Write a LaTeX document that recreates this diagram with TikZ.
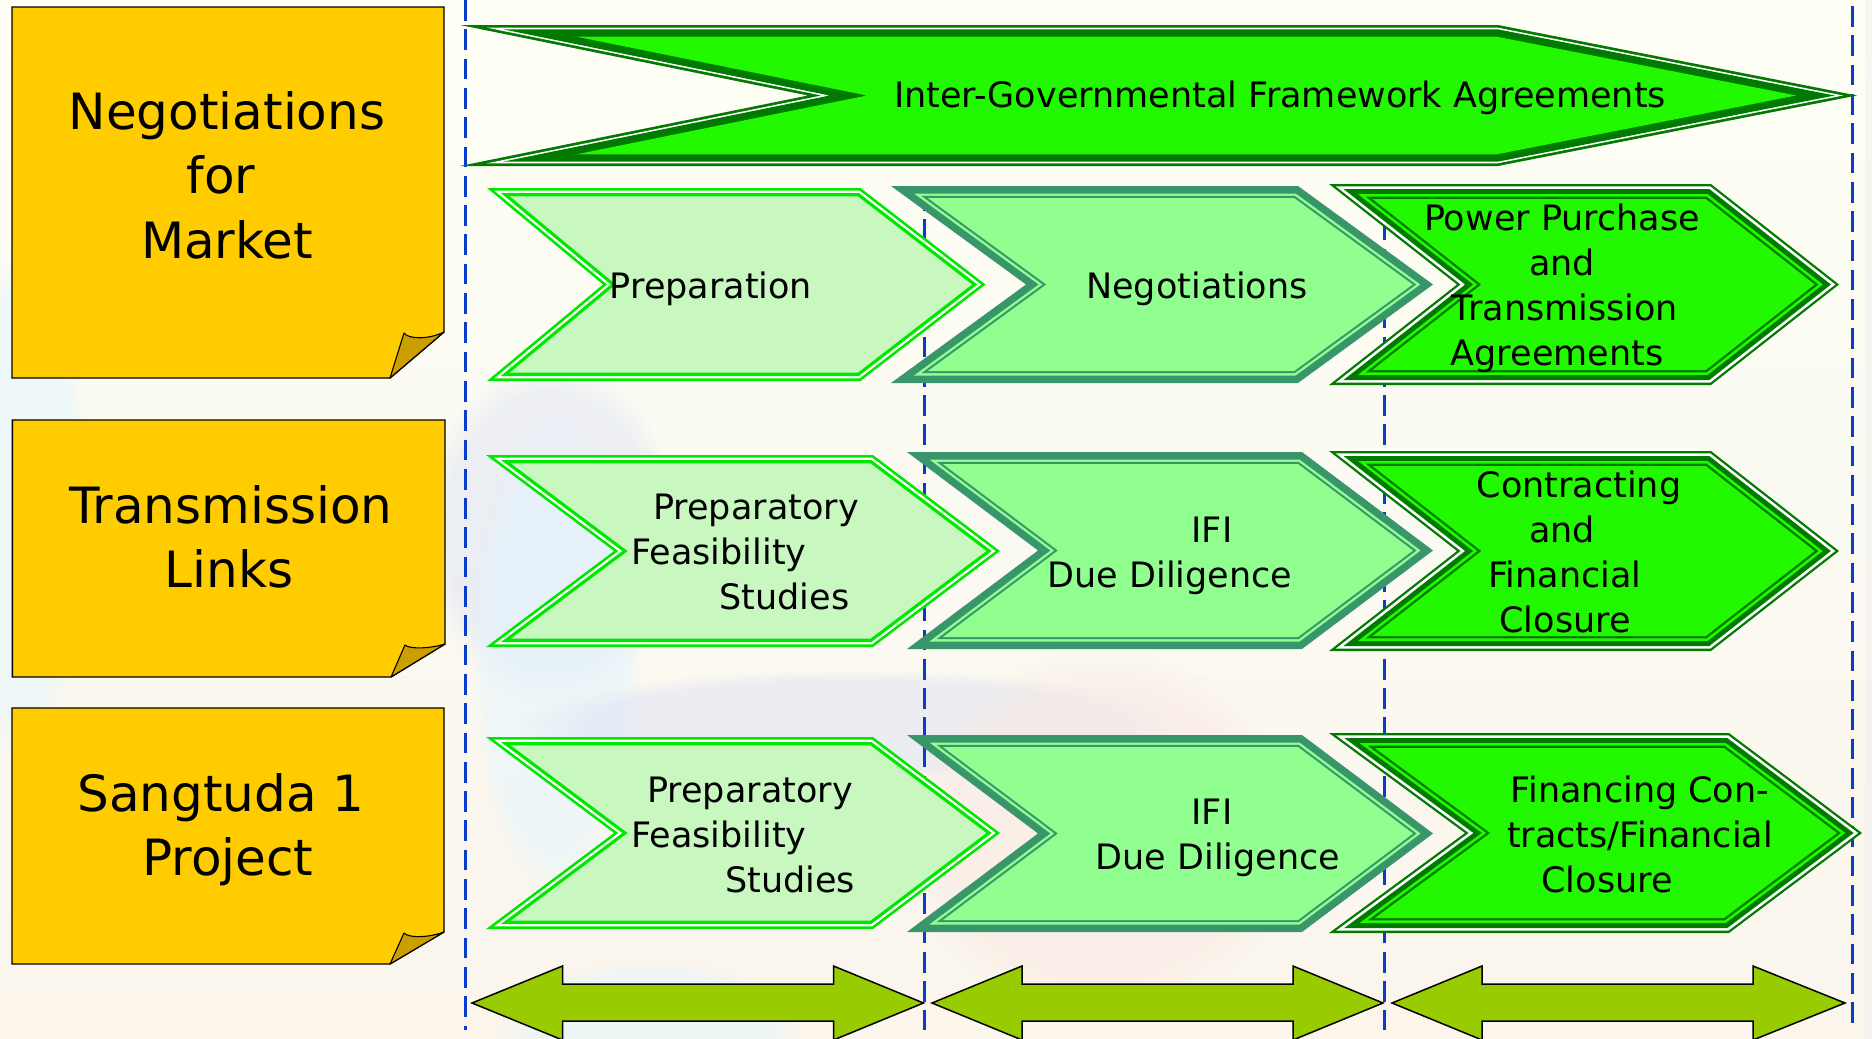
\documentclass[tikz,border=0pt]{standalone}
\usepackage{fontspec}
\setmainfont{DejaVu Sans}
\usetikzlibrary{fadings}
\definecolor{bgtop}{HTML}{FFFFF5}
\definecolor{bgmid}{HTML}{FBFAF2}
\definecolor{bgbot}{HTML}{FBF5EC}
\definecolor{patchblue}{HTML}{DDE3F5}
\definecolor{patchsky}{HTML}{E2F5FF}
\definecolor{patchpink}{HTML}{F8E8E2}
\definecolor{dashblue}{HTML}{0A3CCC}
\definecolor{notefill}{HTML}{FFCC00}
\definecolor{foldfill}{HTML}{CC9F00}
\definecolor{arrowfill}{HTML}{99CC00}
\definecolor{dkgreen}{HTML}{007A00}
\definecolor{brightfill}{HTML}{22F800}
\definecolor{neon}{HTML}{00E800}
\definecolor{palefill}{HTML}{C8F7C0}
\definecolor{seagreen}{HTML}{38966A}
\definecolor{midfill}{HTML}{90FF90}
\tikzset{
  x=1pt,y=-1pt,
  guide/.style={draw=dashblue,line width=3pt,dash pattern=on 20.7pt off 8.6pt},
  note/.style={draw=black,line width=1.4pt,fill=notefill,line join=miter},
  fold/.style={draw=black,line width=1.1pt,fill=foldfill,line join=round},
  span/.style={draw=black,line width=1.5pt,fill=arrowfill,line join=miter},
  bigtext/.style={inner sep=0pt,align=center,anchor=north,font=\fontsize{50}{64.5}\selectfont},
  smalltext/.style={inner sep=0pt,align=center,anchor=north,font=\fontsize{35}{45}\selectfont},
  patch/.style={path fading=circle with fuzzy edge 20 percent,draw=none,opacity=.5}
}
% strut: height 34 / depth 11 for the small lines, 48 / 16.5 for the big ones
\newcommand{\sst}{\rule[-11pt]{0pt}{45pt}}
\newcommand{\bst}{\rule[-16.5pt]{0pt}{64.5pt}}
% space at the end of a line that survives the line break
\newcommand{\rsp}[1]{\hspace*{#1}\mbox{}}
% left, shoulder, tip, notch, top, bottom, layers (inset/colour)
\newcommand{\chevronbox}[7]{%
  \pgfmathsetmacro{\hh}{(#6-#5)/2}
  \pgfmathsetmacro{\midy}{(#6+#5)/2}
  \pgfmathsetmacro{\slopel}{(#4-#1)/\hh}
  \pgfmathsetmacro{\sloper}{(#3-#2)/\hh}
  \foreach \ins/\col in #7{
    \pgfmathsetmacro{\dl}{\ins*sqrt(1+\slopel*\slopel)}
    \pgfmathsetmacro{\dr}{\ins*sqrt(1+\sloper*\sloper)}
    \pgfmathsetmacro{\xl}{#1+\dl+\slopel*\ins}
    \pgfmathsetmacro{\xr}{#2+\sloper*\ins-\dr}
    \pgfmathsetmacro{\xt}{#3-\dr}
    \pgfmathsetmacro{\xn}{#4+\dl}
    \pgfmathsetmacro{\yt}{#5+\ins}
    \pgfmathsetmacro{\yb}{#6-\ins}
    \fill[\col] (\xl,\yt) -- (\xr,\yt) -- (\xt,\midy) -- (\xr,\yb) -- (\xl,\yb) -- (\xn,\midy) -- cycle;
  }
}
\newcommand{\banlayers}{0/dkgreen,2.7/white,4.3/dkgreen,11.7/brightfill}
\newcommand{\palelayers}{0/neon,2.7/white,5/neon,8.3/palefill}
\newcommand{\midlayers}{0/seagreen,7.5/midfill,9.9/seagreen,12/midfill}
\newcommand{\darklayers}{0/dkgreen,2.3/white,5/dkgreen,10/brightfill,12.7/dkgreen,15/brightfill}
\newcommand{\doublearrow}[4]{% tip, base, base, tip
  \draw[span] (#1,1003) -- (#2,966) -- (#2,984) -- (#3,984) -- (#3,966) -- (#4,1003)
     -- (#3,1040) -- (#3,1021) -- (#2,1021) -- (#2,1040) -- cycle;
}
\begin{document}
\begin{tikzpicture}
\useasboundingbox (0,0) rectangle (1872,1039);
\begin{scope}
\clip (0,0) rectangle (1872,1039);
% background
\shade[top color=bgtop,bottom color=bgbot,middle color=bgmid] (0,0) rectangle (1872,1039);
\fill[patchsky,patch] (-60,250) rectangle (90,760);
\fill[patchblue,patch] (420,360) rectangle (680,700);
\fill[patchsky,patch] (470,420) rectangle (640,900);
\fill[patchblue,patch] (520,670) rectangle (1180,780);
\fill[patchpink,patch] (900,650) rectangle (1300,1010);
\fill[patchsky,patch] (500,960) rectangle (800,1100);
\fill[black!6,opacity=.5] (1865,0) rectangle (1872,1039);
% dashed guides
\draw[guide] (465,0) -- (465,1030);
\draw[guide] (924,190) -- (924,1030);
\draw[guide] (1384,190) -- (1384,1030);
\draw[guide] (1852,6) -- (1852,1030);
% double arrows
\doublearrow{472}{562.5}{833.5}{923.5}
\doublearrow{932}{1022}{1293}{1383}
\doublearrow{1392}{1482}{1753}{1845}
\end{scope}
% notes
\draw[note] (12,7) -- (444,7) -- (444,332) -- (390,378) -- (12,378) -- cycle;
\draw[fold] (390,378) -- (404,333) .. controls (408,339) and (428,340) .. (444,332) -- cycle;
\draw[note] (12.3,420) -- (445,420) -- (445,644) -- (391,677) -- (12.3,677) -- cycle;
\draw[fold] (391,677) -- (405,645) .. controls (409,649) and (429,649) .. (445,644) -- cycle;
\draw[note] (12,708) -- (444,708) -- (444,932) -- (390,964) -- (12,964) -- cycle;
\draw[fold] (390,964) -- (404,933) .. controls (408,938) and (428,938) .. (444,932) -- cycle;
% banner
\chevronbox{460}{1498}{1857}{808}{25}{166}{\banlayers}
% row 1
\chevronbox{487}{860.5}{985.5}{603}{188}{381}{\palelayers}
\chevronbox{891}{1298}{1433}{1026}{186}{383}{\midlayers}
\chevronbox{1329}{1711}{1839}{1457}{184}{385}{\darklayers}
% row 2
\chevronbox{486}{873}{1000}{614}{455}{647}{\palelayers}
\chevronbox{907}{1302}{1433}{1038}{452}{649}{\midlayers}
\chevronbox{1329}{1711}{1839}{1457}{451}{651}{\darklayers}
% row 3
\chevronbox{486}{873}{1000}{614}{737}{929}{\palelayers}
\chevronbox{907}{1302}{1433}{1038}{735}{932}{\midlayers}
\chevronbox{1329}{1729}{1862}{1465}{733}{933}{\darklayers}
% note labels
\node[bigtext] (noteA) at (227,81) {\bst Negotiations\\\bst for\rsp{12pt}\\\bst Market};
\node[bigtext] (noteB) at (229,475) {\bst\hspace*{4pt}Transmission\\\bst Links};
\node[bigtext] (noteC) at (224,763) {\bst Sangtuda 1\rsp{6pt}\\\bst\hspace*{8pt}Project};
% chevron labels
\node[smalltext] (banlabel) at (1280,73) {\sst Inter-Governmental Framework Agreements};
\node[smalltext] (prepA) at (711,264) {\sst Preparation};
\node[smalltext] (negA) at (1197,264) {\sst Negotiations};
\node[smalltext] (powerA) at (1562,196) {\sst Power Purchase\\\sst and\\\sst\hspace*{6pt}Transmission\\\sst Agreements\rsp{10pt}};
\node[smalltext] (prepB) at (740,485) {\sst\hspace*{32pt}Preparatory\\\sst Feasibility\rsp{42pt}\\\sst\hspace*{89pt}Studies};
\node[smalltext] (ifiB) at (1170,508) {\sst\hspace*{84pt}IFI\\\sst Due Diligence};
\node[smalltext] (contB) at (1565,463) {\sst\hspace*{28pt}Contracting\\\sst and\rsp{6pt}\\\sst Financial\\\sst Closure};
\node[smalltext] (prepC) at (740,768) {\sst\hspace*{20pt}Preparatory\\\sst Feasibility\rsp{42pt}\\\sst\hspace*{100pt}Studies};
\node[smalltext] (ifiC) at (1215,790) {\sst IFI\rsp{6pt}\\\sst\hspace*{6pt}Due Diligence};
\node[smalltext] (finC) at (1640,768) {\sst Financing Con-\\\sst tracts/Financial\\\sst Closure\rsp{66pt}};
\end{tikzpicture}
\end{document}
